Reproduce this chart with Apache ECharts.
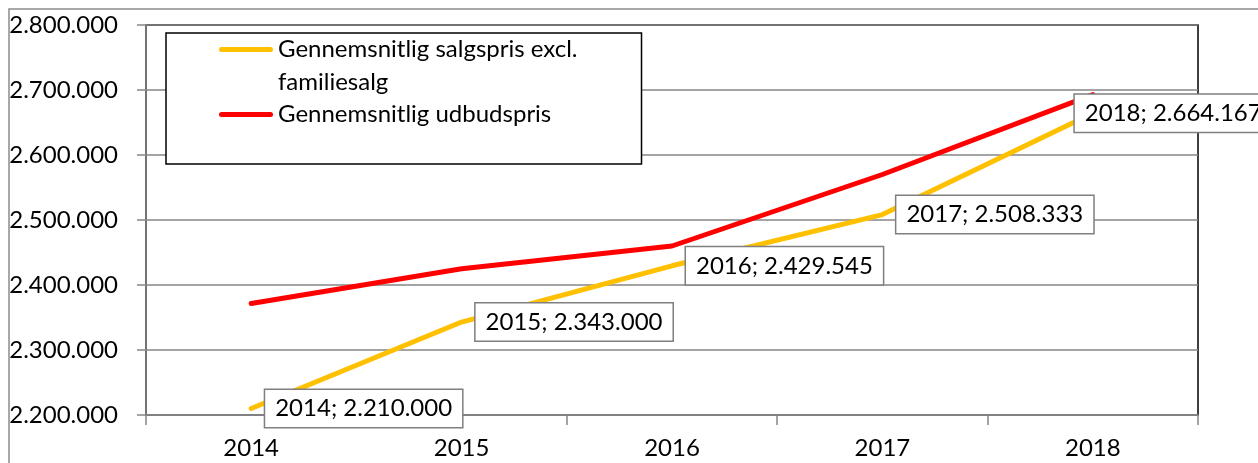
<!DOCTYPE html>
<html>
<head>
<meta charset="utf-8">
<script src="https://cdn.jsdelivr.net/npm/echarts@6/dist/echarts.min.js"></script>
<style>
html,body{margin:0;padding:0;background:#fff;}
#chart{width:1258px;height:463px;}
</style>
</head>
<body>
<div id="chart"></div>
<script>
const categories = ['2014', '2015', '2016', '2017', '2018'];
const salgsprisName = 'Gennemsnitlig salgspris excl. familiesalg';
const udbudsprisName = 'Gennemsnitlig udbudspris';
const salgsprisValues = [2210000, 2343000, 2429545, 2508333, 2664167];
const udbudsprisValues = [2371500, 2425000, 2460000, 2570000, 2693000];
const yTicks = [2200000, 2300000, 2400000, 2500000, 2600000, 2700000, 2800000];

function fmt(v) {
  return String(Math.round(v)).replace(/\B(?=(\d{3})+(?!\d))/g, '.');
}

const FONT = 'Lato';
const FS = 24;
const chart = echarts.init(document.getElementById('chart'), null, {renderer: 'canvas'});

const iconPath = 'path://M0,0L0,0M0,66L0,66M2.5,14L51.5,14A2.5,2.5 0 0 1 51.5,19L2.5,19A2.5,2.5 0 0 1 2.5,14Z';

const salgsData = salgsprisValues.map((v, i) => {
  const item = {value: v};
  if (i === salgsprisValues.length - 1) {
    item.label = {offset: [-32, 0]};
  }
  return item;
});

chart.setOption({
  backgroundColor: '#fff',
  animation: false,
  textStyle: {fontFamily: FONT},
  graphic: [{
    type: 'rect',
    shape: {x: 9, y: 9, width: 1300, height: 500},
    style: {fill: 'none', stroke: '#8c8c8c', lineWidth: 1.5},
    silent: true,
    z: -1
  }],
  grid: {
    left: 146, top: 25, right: 60, bottom: 48,
    show: true, borderColor: '#000', borderWidth: 1.5, backgroundColor: 'transparent'
  },
  legend: {
    left: 166, top: 33,
    orient: 'vertical',
    itemWidth: 54, itemHeight: 66, itemGap: -1,
    padding: [0, 64, 0, 53],
    borderColor: '#000', borderWidth: 1.5,
    backgroundColor: '#fff',
    icon: iconPath,
    selectedMode: false,
    textStyle: {fontFamily: FONT, fontSize: FS, lineHeight: 33, color: '#000'},
    formatter: function (name) {
      if (name === salgsprisName) return 'Gennemsnitlig salgspris excl.\nfamiliesalg';
      return name + '\n';
    },
    data: [
      {name: salgsprisName, itemStyle: {color: '#FFC000', borderWidth: 0}},
      {name: udbudsprisName, itemStyle: {color: '#FF0000', borderWidth: 0}}
    ]
  },
  xAxis: {
    type: 'category',
    data: categories,
    boundaryGap: true,
    axisLine: {show: true, lineStyle: {color: '#868686', width: 1.5}},
    axisTick: {show: true, length: 10, alignWithLabel: false, lineStyle: {color: '#868686', width: 1.5}},
    axisLabel: {color: '#000', fontFamily: FONT, fontSize: FS, margin: 21},
    splitLine: {show: false}
  },
  yAxis: {
    type: 'value',
    min: yTicks[0], max: yTicks[yTicks.length - 1], interval: 100000,
    axisLine: {show: true, lineStyle: {color: '#868686', width: 1.5}},
    axisTick: {show: true, length: 9, lineStyle: {color: '#868686', width: 1.5}},
    axisLabel: {color: '#000', fontFamily: FONT, fontSize: FS, margin: 28, formatter: fmt},
    splitLine: {show: true, lineStyle: {color: '#868686', width: 1.5}}
  },
  series: [
    {
      name: udbudsprisName,
      type: 'line',
      data: udbudsprisValues,
      showSymbol: false,
      symbol: 'none',
      color: '#FF0000',
      lineStyle: {color: '#FF0000', width: 5, cap: 'round', join: 'round'},
      z: 2
    },
    {
      name: salgsprisName,
      type: 'line',
      data: salgsData,
      symbol: 'circle',
      symbolSize: 2,
      showSymbol: true,
      color: '#FFC000',
      itemStyle: {color: '#FFC000'},
      lineStyle: {color: '#FFC000', width: 5, cap: 'round', join: 'round'},
      z: 3,
      label: {
        show: true,
        position: 'right',
        distance: 13,
        formatter: function (p) { return p.name + '; ' + fmt(p.value); },
        fontFamily: FONT, fontSize: FS, color: '#000',
        backgroundColor: '#fff',
        borderColor: '#7f7f7f', borderWidth: 1.5,
        padding: [7, 10, 6, 10]
      }
    }
  ]
});
</script>
</body>
</html>
